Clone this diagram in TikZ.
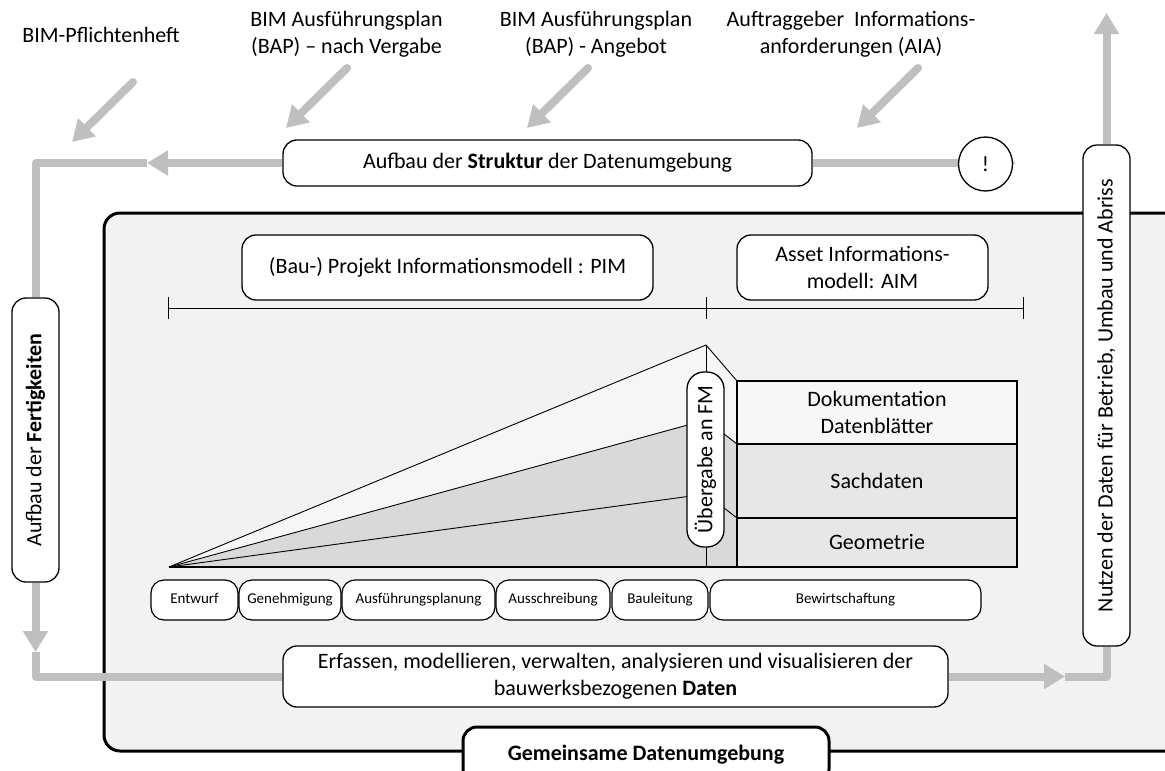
\documentclass[tikz,border=0pt]{standalone}
\usepackage{fontspec}
\setmainfont{Carlito}
\usetikzlibrary{arrows.meta}
\definecolor{garrow}{HTML}{BFBFBF}
\definecolor{bgcde}{HTML}{F2F2F2}
\definecolor{upperfill}{HTML}{F6F6F6}
\definecolor{lowerfill}{HTML}{D9D9D9}
\definecolor{dokufill}{HTML}{F7F7F7}
\definecolor{layerfill}{HTML}{E7E7E7}
\begin{document}
\begin{tikzpicture}[x=1pt,y=-1pt,
  every node/.style={font=\fontsize{22}{27}\selectfont, inner sep=0pt},
  gline/.style={draw=garrow, line width=8pt, line join=round},
  gtip/.style={-{Triangle[length=21pt,width=24pt]}},
  rbox/.style={draw, fill=white, line width=1.3pt, rounded corners=14pt, align=center},
  phase/.style={draw, fill=white, line width=1.2pt, rounded corners=13pt,
    font=\fontsize{15}{18}\selectfont, minimum height=40pt,
    text height=10.5pt, text depth=3pt},
  layer/.style={draw, line width=1.5pt, align=center, minimum width=280pt},
  thinline/.style={line width=0.9pt}]
\useasboundingbox (0,0) rectangle (1165,771);
\clip (0,0) rectangle (1165,771);
\fill[white] (0,0) rectangle (1165,771);

% common data environment
\node[draw, line width=3pt, fill=bgcde, rounded corners=16pt,
  minimum width=1081pt, minimum height=538pt] (cde) at (644.5,482) {};

% top labels
\node[align=center] (l1) at (101,35) {BIM-Pflichtenheft};
\node[align=center] (l2) at (346.5,34) {BIM Ausführungsplan\\(BAP) – nach Vergabe};
\node[align=center] (l3) at (596,34) {BIM Ausführungsplan\\(BAP) - Angebot};
\node[align=center] (l4) at (851,34) {Auftraggeber\ \ Informations-\\anforderungen (AIA)};

% diagonal input arrows
\coordinate (p1s) at (133,82);  \coordinate (p1e) at (72,142);
\coordinate (p2s) at (347,68);  \coordinate (p2e) at (286,128);
\coordinate (p3s) at (588,68);  \coordinate (p3e) at (527,128);
\coordinate (p4s) at (918,68);  \coordinate (p4e) at (857,128);
\foreach \s/\e in {p1s/p1e,p2s/p2e,p3s/p3e,p4s/p4e}
  \draw[gline, gtip, line cap=round] (\s) -- (\e);

% main loop boxes
\node[rbox, minimum width=529pt, minimum height=46pt] (struct) at (547.5,163)
  {Aufbau der \textbf{Struktur} der Datenumgebung};
\node[rbox, rotate=90, minimum width=284pt, minimum height=47pt] (fert) at (35.5,440)
  {Aufbau der \textbf{Fertigkeiten}};
\node[rbox, rotate=90, minimum width=501pt, minimum height=47pt] (nutzen) at (1106.5,395.5)
  {Nutzen der Daten für Betrieb, Umbau und Abriss};
\node[rbox, minimum width=665pt, minimum height=61pt] (erf) at (615.5,676.5)
  {Erfassen, modellieren, verwalten, analysieren und visualisieren der\\bauwerksbezogenen \textbf{Daten}};

% grey loop connectors
\coordinate (lt) at (147,163);
\coordinate (c1) at (35.5,163);
\draw[gline, gtip] (struct.west) -- (lt);
\draw[gline] (lt) -- (c1) -- (fert.east);
\coordinate (ld) at (35.5,652);
\coordinate (c2) at (35.5,676.5);
\draw[gline, gtip] (fert.west) -- (ld);
\draw[gline] (ld) -- (c2) -- (erf.west);
\coordinate (lr) at (1065,676.5);
\coordinate (c3) at (1106.5,676.5);
\draw[gline, gtip] (erf.east) -- (lr);
\draw[gline] (lr) -- (c3) -- (nutzen.west);
\coordinate (lu) at (1106.5,13);
\draw[gline, gtip] (nutzen.east) -- (lu);
\coordinate (lc) at (1016,163);
\draw[gline, gtip] (struct.east) -- (lc);
\node[draw, circle, fill=white, line width=1.3pt, minimum size=54pt] (excl) at (985.5,164) {!};

% model boxes
\node[rbox, minimum width=411pt, minimum height=65pt] (pim) at (447.5,267.5)
  {(Bau-) Projekt Informationsmodell : PIM};
\node[rbox, minimum width=251pt, minimum height=65pt] (aim) at (862.5,267.5)
  {Asset Informations-\\modell: AIM};

% scale line
\coordinate (s0) at (168,308);
\coordinate (s1) at (706,308);
\coordinate (s2) at (1023,308);
\draw[thinline] (s0) -- (s2);
\foreach \p in {s0,s1,s2}
  \draw[thinline] (\p) ++(0,-11) -- ++(0,22);

% growth wedge
\coordinate (O) at (169,567);
\coordinate (A) at (706,345);
\coordinate (M) at (706,420);
\coordinate (L) at (706,494);
\coordinate (B) at (706,567);
\coordinate (D1) at (737,381);
\coordinate (D2) at (737,444);
\coordinate (D3) at (737,518);
\coordinate (D4) at (737,567);
\coordinate (E) at (1017,567);
\fill[upperfill] (O) -- (A) -- (D1) -- (D2) -- (M) -- cycle;
\fill[lowerfill] (O) -- (M) -- (D2) -- (D4) -- cycle;
\draw[thinline] (O) -- (A) -- (D1);
\draw[thinline] (O) -- (M) -- (D2);
\draw[thinline] (O) -- (L) -- (D3);
\draw[thinline] (A) -- (B);
\draw[line width=1.8pt] (O) -- (E);

% AIM layers
\node[layer, fill=dokufill, minimum height=63pt] (doku) at (877,412.5) {Dokumentation\\Datenblätter};
\node[layer, fill=layerfill, minimum height=74pt] (sach) at (877,481) {Sachdaten};
\node[layer, fill=layerfill, minimum height=49pt] (geo) at (877,542.5) {Geometrie};

% handover
\node[rbox, rotate=90, rounded corners=17pt, minimum width=175pt, minimum height=37pt] (ueb) at (705.5,459.5)
  {Übergabe an FM};

% phases
\node[phase, minimum width=87pt] (ph1) at (194.5,600) {Entwurf};
\node[phase, minimum width=102pt] (ph2) at (290,600) {Genehmigung};
\node[phase, minimum width=153pt] (ph3) at (418.5,600) {Ausführungsplanung};
\node[phase, minimum width=114pt] (ph4) at (553,600) {Ausschreibung};
\node[phase, minimum width=96pt] (ph5) at (660,600) {Bauleitung};
\node[phase, minimum width=271pt] (ph6) at (845.5,600) {Bewirtschaftung};

% tab
\node[draw, fill=white, line width=3pt, rounded corners=14pt,
  minimum width=366pt, minimum height=56pt] (tab) at (646,755) {\textbf{Gemeinsame Datenumgebung}};
\end{tikzpicture}
\end{document}
